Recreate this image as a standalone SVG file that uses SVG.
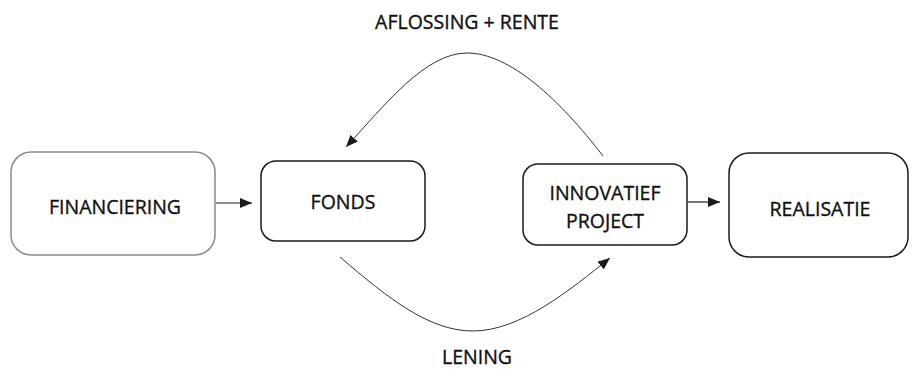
<svg xmlns="http://www.w3.org/2000/svg" width="924" height="369" viewBox="0 0 924 369">
<style>
.box{fill:#fff;stroke:#1a1a1a;stroke-width:1.5}
.gray{stroke:#8a8a8a}
.lbl{font-family:"Open Sans","Noto Sans","Liberation Sans",sans-serif;font-size:19.5px;fill:#111;stroke:#111;stroke-width:0.35;text-anchor:middle}
.con{fill:none;stroke:#1a1a1a;stroke-width:1.2}
.thin{stroke:#333;stroke-width:1}
</style>
<defs>
<marker id="ah" viewBox="0 0 12 10" refX="12" refY="5" markerWidth="12" markerHeight="10" markerUnits="userSpaceOnUse" orient="auto">
<path d="M0,0 L12,5 L0,10 z" fill="#1a1a1a"/>
</marker>
</defs>
<rect width="924" height="369" fill="#fff"/>
<g id="financiering">
<rect class="box gray" x="11" y="152" width="204" height="103" rx="20"/>
<text class="lbl" x="115" y="214">FINANCIERING</text>
</g>
<g id="fonds">
<rect class="box" x="261" y="161" width="164" height="80" rx="15"/>
<text class="lbl" x="343" y="209">FONDS</text>
</g>
<g id="innovatief-project">
<rect class="box" x="523" y="164" width="164" height="81" rx="15"/>
<text class="lbl" x="605" y="200">INNOVATIEF</text>
<text class="lbl" x="605" y="228">PROJECT</text>
</g>
<g id="realisatie">
<rect class="box" x="729" y="153" width="179" height="104" rx="20"/>
<text class="lbl" x="820" y="216">REALISATIE</text>
</g>
<g id="connectors">
<line class="con" x1="216" y1="203" x2="252" y2="203" marker-end="url(#ah)"/>
<line class="con" x1="688" y1="202" x2="720" y2="202" marker-end="url(#ah)"/>
<path class="con thin" d="M603,156 C560,100 510,53 467,53 C425,53 385,105 346,147" marker-end="url(#ah)"/>
<path class="con thin" d="M340,257 C390,300 430,331 473,331 C520,331 570,290 610,258" marker-end="url(#ah)"/>
<text class="lbl" x="467" y="29">AFLOSSING + RENTE</text>
<text class="lbl" x="477" y="364">LENING</text>
</g>
</svg>
